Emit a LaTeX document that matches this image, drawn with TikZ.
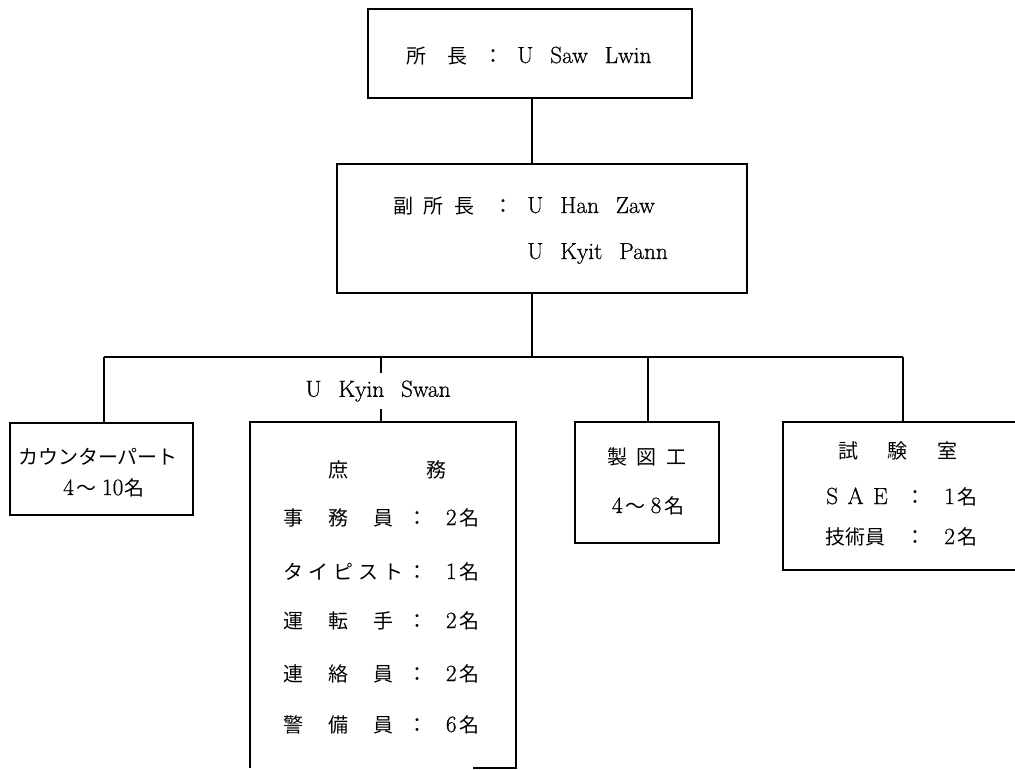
\documentclass[tikz,border=0pt]{standalone}
\usepackage{fontspec}
\setmainfont{Latin Modern Roman}[FakeBold=0.6]
\newfontfamily\jpfont{Noto Sans CJK JP}
\newcommand\J[1]{{\jpfont\fontsize{15}{18}\selectfont #1}}
\newcommand\ws{\hspace{0.72em}}
\begin{document}
\begin{tikzpicture}[x=0.75pt,y=-0.75pt,font=\fontsize{17.5}{20}\selectfont,
  box/.style={draw,line width=1.7pt,inner sep=0,outer sep=0},
  hid/.style={inner sep=0,outer sep=0},
  conn/.style={line width=1.3pt},
  txt/.style={inner sep=0,anchor=base west},
  ctxt/.style={inner sep=0,anchor=base}]
\useasboundingbox (0,0) rectangle (1015,769);
\clip (0,0) rectangle (1015,769);
\fill[white] (0,0) rectangle (1015,769);

% boxes
\node[box,minimum width=243pt,minimum height=66.75pt] (top) at (530,53.5) {};
\node[box,minimum width=307.5pt,minimum height=96.75pt] (vice) at (542,228.5) {};
\node[box,minimum width=137.25pt,minimum height=69pt] (cp) at (101.5,469) {};
\node[hid,minimum width=199.5pt,minimum height=259.5pt] (shomu) at (383,595) {};
\node[box,minimum width=108pt,minimum height=90.75pt] (seizu) at (647,482.5) {};
\node[box,minimum width=189pt,minimum height=111pt] (shiken) at (909,496) {};
\draw[line width=1.7pt] (shomu.south west) -- (shomu.north west) -- (shomu.north east) -- (shomu.south east) -- ++(-43,0);

% top text
\node[txt] (tA) at (406,63) {\J{所}\hspace{16pt}\J{長}};
\node[ctxt] (tC) at (493,63) {\J{：}};
\node[txt] (tB) at (517,63) {U\ws Saw\ws Lwin};

% vice text
\node[txt] (vA) at (393,213) {\J{副}\hspace{8pt}\J{所}\hspace{8pt}\J{長}};
\node[ctxt] (vC) at (503,213) {\J{：}};
\node[txt] (vB) at (527,213) {U\ws Han\ws Zaw};
\node[txt] (vD) at (527,259) {U\ws Kyit\ws Pann};

% connectors
\coordinate (bus) at (532,357);
\coordinate (bL) at (104,357);
\coordinate (bR) at (903,357);
\draw[conn] (top.south -| bus) -- (vice.north -| bus);
\draw[conn] (vice.south -| bus) -- (bus);
\draw[conn] (bL) -- (bR);
\draw[conn] (bL) -- (bL |- cp.north);
\draw[conn] (bus -| 648,0) -- (seizu.north -| 648,0);
\draw[conn] (bR) -- (bR |- shiken.north);
\node[hid,minimum height=27pt] (kyin) at (378,391) {U\ws Kyin\ws Swan};
\draw[conn] (bus -| 381,0) -- (kyin.north -| 381,0);
\draw[conn] (kyin.south -| 381,0) -- (shomu.north -| 381,0);

% counterpart
\node[ctxt] (cpA) at (98,464) {\J{カウンターパート}};
\node[ctxt] (cpB) at (104,495) {4\hspace{2pt}\J{～}\hspace{4pt}10\hspace{1pt}\J{名}};

% shomu
\node[txt] (sH) at (328,477) {\J{庶}\hspace{59pt}\J{務}};
\node[txt] (s1) at (283,525) {\makebox[93pt][l]{\makebox[82.5pt][s]{\J{事}\hfill\J{務}\hfill\J{員}}}\J{：}\hspace{14pt}2\hspace{2pt}\J{名}};
\node[txt] (s2) at (283,579) {\makebox[93pt][l]{\makebox[90pt][s]{\J{タ}\hfill\J{イ}\hfill\J{ピ}\hfill\J{ス}\hfill\J{ト}}}\J{：}\hspace{14pt}1\hspace{2pt}\J{名}};
\node[txt] (s3) at (283,628) {\makebox[93pt][l]{\makebox[82.5pt][s]{\J{運}\hfill\J{転}\hfill\J{手}}}\J{：}\hspace{14pt}2\hspace{2pt}\J{名}};
\node[txt] (s4) at (283,681) {\makebox[93pt][l]{\makebox[82.5pt][s]{\J{連}\hfill\J{絡}\hfill\J{員}}}\J{：}\hspace{14pt}2\hspace{2pt}\J{名}};
\node[txt] (s5) at (283,732) {\makebox[93pt][l]{\makebox[82.5pt][s]{\J{警}\hfill\J{備}\hfill\J{員}}}\J{：}\hspace{14pt}6\hspace{2pt}\J{名}};

% seizu
\node[ctxt] (zA) at (647,464) {\J{製}\hspace{7pt}\J{図}\hspace{7pt}\J{工}};
\node[ctxt] (zB) at (648,513) {4\hspace{2pt}\J{～}\hspace{4pt}8\hspace{2pt}\J{名}};

% shiken
\node[ctxt] (kA) at (898,458) {\J{試}\hspace{22pt}\J{験}\hspace{22pt}\J{室}};
\node[txt] (kB) at (826,504) {S\hspace{7pt}A\hspace{7pt}E};
\node[ctxt] (kBc) at (915,504) {\J{：}};
\node[txt] (kBn) at (944,504) {1\hspace{2pt}\J{名}};
\node[txt] (kC) at (825,544) {\J{技術員}};
\node[ctxt] (kCc) at (915,544) {\J{：}};
\node[txt] (kCn) at (944,544) {2\hspace{2pt}\J{名}};
\end{tikzpicture}
\end{document}
